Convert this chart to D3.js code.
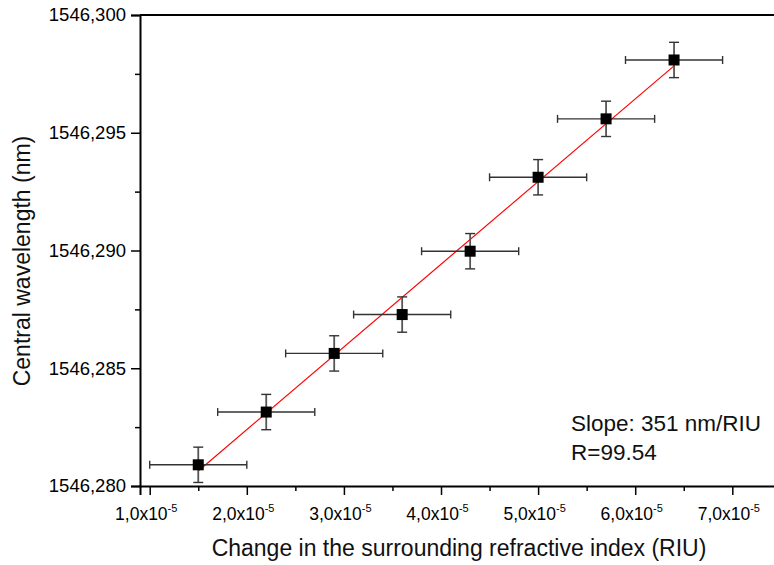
<!DOCTYPE html>
<html>
<head>
<meta charset="utf-8">
<script src="https://cdn.jsdelivr.net/npm/d3@7"></script>
<style>
  html, body { margin: 0; padding: 0; background: #fff; }
  svg { display: block; font-family: "Liberation Sans", Arial, sans-serif; }
</style>
</head>
<body>
<div id="chart"></div>
<script>
(function chart() {

    const WIDTH = 774;
    const HEIGHT = 565;

    // data (x in units of 1e-5 RIU)
    const riuChange = [1.5, 2.2, 2.9, 3.6, 4.3, 5.0, 5.7, 6.4];
    const wavelength = [1546.2809, 1546.28314, 1546.28563, 1546.28728, 1546.28997, 1546.29311, 1546.29559, 1546.29809];
    const riuError = [0.5, 0.5, 0.5, 0.5, 0.5, 0.5, 0.5, 0.5];
    const waveError = [0.00075, 0.00075, 0.00075, 0.00075, 0.00075, 0.00075, 0.00075, 0.00075];

    // linear fit end points
    const fitX = [1.5, 6.4];
    const fitY = [1546.28064, 1546.29784];

    const xTicks = [1, 2, 3, 4, 5, 6, 7];
    const xMinor = [1.5, 2.5, 3.5, 4.5, 5.5, 6.5, 7.5];
    const yTicks = [1546.280, 1546.285, 1546.290, 1546.295, 1546.300];
    const yMinor = [1546.2825, 1546.2875, 1546.2925, 1546.2975];

    const annotation = ["Slope: 351 nm/RIU", "R=99.54"];

    const left = 140, top = 15, bottom = 486;

    const x = d3.scaleLinear().domain([0.9, 7.5]).range([left, left + 6.6 * 97.1]);
    const y = d3.scaleLinear().domain([1546.280, 1546.300]).range([bottom, top]);

    const svg = d3.select("#chart").append("svg")
        .attr("width", WIDTH)
        .attr("height", HEIGHT)
        .style("background", "#fff");

    // minor ticks
    svg.append("g")
        .attr("transform", `translate(${left},0)`)
        .call(d3.axisLeft(y).tickValues(yMinor).tickSize(5).tickFormat(""))
        .call(g => g.select(".domain").remove())
        .call(g => g.selectAll("line").attr("stroke-width", 1.5));

    svg.append("g")
        .attr("transform", `translate(0,${bottom})`)
        .call(d3.axisBottom(x).tickValues(xMinor).tickSize(5).tickFormat(""))
        .call(g => g.select(".domain").remove())
        .call(g => g.selectAll("line").attr("stroke-width", 1.5));

    // y axis
    svg.append("g")
        .attr("transform", `translate(${left},0)`)
        .call(d3.axisLeft(y).tickValues(yTicks).tickSize(9).tickPadding(5)
            .tickFormat(d => d3.format(".3f")(d).replace(".", ",")))
        .call(g => g.select(".domain").attr("stroke-width", 2))
        .call(g => g.selectAll("line").attr("stroke-width", 1.5))
        .call(g => g.selectAll("text")
            .attr("font-size", "18.5px")
            .attr("fill", "#000")
            .attr("font-family", "Liberation Sans, Arial, sans-serif"));

    // x axis
    const xAxis = svg.append("g")
        .attr("transform", `translate(0,${bottom})`)
        .call(d3.axisBottom(x).tickValues(xTicks).tickSize(9).tickFormat(""))
        .call(g => g.select(".domain").attr("stroke-width", 2))
        .call(g => g.selectAll("line").attr("stroke-width", 1.5));

    const xLabel = xAxis.selectAll(".tick").append("text")
        .attr("y", 34)
        .attr("x", -4)
        .attr("text-anchor", "middle")
        .attr("fill", "#000")
        .attr("font-size", "17.5px")
        .attr("font-family", "Liberation Sans, Arial, sans-serif");
    xLabel.append("tspan").text(d => d3.format(".1f")(d).replace(".", ",") + "x10");
    xLabel.append("tspan").attr("dy", -8).attr("font-size", "11px").text("-5");

    // top frame line
    svg.append("line")
        .attr("x1", left).attr("x2", WIDTH)
        .attr("y1", top).attr("y2", top)
        .attr("stroke", "#000")
        .attr("stroke-width", 2);

    // fit line
    svg.append("line")
        .attr("x1", x(fitX[0])).attr("y1", y(fitY[0]))
        .attr("x2", x(fitX[1])).attr("y2", y(fitY[1]))
        .attr("stroke", "#ff0000")
        .attr("stroke-width", 1.2);

    const points = riuChange.map((d, i) => ({
        x: d, y: wavelength[i], ex: riuError[i], ey: waveError[i]
    }));

    // error bars
    const err = svg.append("g")
        .attr("stroke", "#333")
        .attr("stroke-width", 1.4);

    points.forEach(p => {
        err.append("line")
            .attr("x1", x(p.x - p.ex)).attr("x2", x(p.x + p.ex))
            .attr("y1", y(p.y)).attr("y2", y(p.y));
        err.append("line")
            .attr("x1", x(p.x - p.ex)).attr("x2", x(p.x - p.ex))
            .attr("y1", y(p.y) - 4).attr("y2", y(p.y) + 4);
        err.append("line")
            .attr("x1", x(p.x + p.ex)).attr("x2", x(p.x + p.ex))
            .attr("y1", y(p.y) - 4).attr("y2", y(p.y) + 4);
        err.append("line")
            .attr("x1", x(p.x)).attr("x2", x(p.x))
            .attr("y1", y(p.y - p.ey)).attr("y2", y(p.y + p.ey))
            .attr("stroke", "#555")
            .attr("stroke-width", 1.8);
        err.append("line")
            .attr("x1", x(p.x) - 5).attr("x2", x(p.x) + 5)
            .attr("y1", y(p.y - p.ey)).attr("y2", y(p.y - p.ey));
        err.append("line")
            .attr("x1", x(p.x) - 5).attr("x2", x(p.x) + 5)
            .attr("y1", y(p.y + p.ey)).attr("y2", y(p.y + p.ey));
    });

    // square markers
    svg.append("g").selectAll("rect")
        .data(points)
        .join("rect")
        .attr("x", d => x(d.x) - 5.5)
        .attr("y", d => y(d.y) - 5.5)
        .attr("width", 11)
        .attr("height", 11)
        .attr("fill", "#000");

    // annotation
    svg.append("g").selectAll("text")
        .data(annotation)
        .join("text")
        .attr("x", 571)
        .attr("y", (d, i) => 431 + i * 29)
        .attr("font-size", "22.5px")
        .attr("fill", "#111")
        .text(d => d);

    // axis titles
    svg.append("text")
        .attr("x", 459)
        .attr("y", 556)
        .attr("text-anchor", "middle")
        .attr("font-size", "23px")
        .attr("fill", "#111")
        .text("Change in the surrounding refractive index (RIU)");

    svg.append("text")
        .attr("transform", "translate(30,261) rotate(-90)")
        .attr("text-anchor", "middle")
        .attr("font-size", "23px")
        .attr("fill", "#111")
        .text("Central wavelength (nm)");

})();
</script>
</body>
</html>
